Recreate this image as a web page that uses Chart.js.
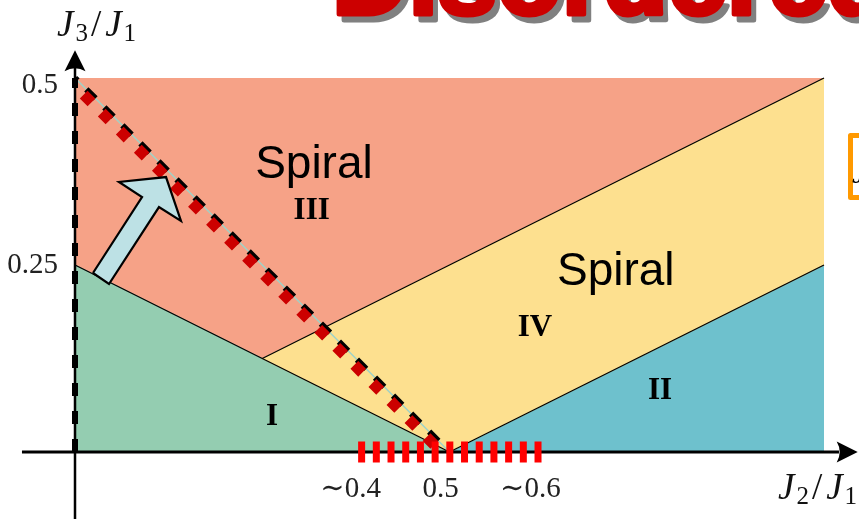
<!DOCTYPE html>
<html><head><meta charset="utf-8">
<script src="https://cdn.jsdelivr.net/npm/chart.js@4.4.1/dist/chart.umd.min.js"></script>
<style>html,body{margin:0;padding:0;background:#fff;overflow:hidden}canvas{display:block}</style>
</head><body>
<canvas id="c" width="859" height="519"></canvas>
<script>
// ---- data (x = J2/J1, y = J3/J1) ----
const regionI   = [[0,0],[0,0.25],[0.25,0.125],[0.5,0],[0,0]];
const regionII  = [[0.5,0],[1,0],[1,0.25],[0.5,0]];
const regionIII = [[0,0.25],[0,0.5],[1,0.5],[0.25,0.125],[0,0.25]];
const regionIV  = [[0.25,0.125],[1,0.5],[1,0.25],[0.5,0],[0.25,0.125]];
const boundaryA = [[0,0.25],[0.5,0]];
const boundaryB = [[0.25,0.125],[1,0.5]];
const boundaryC = [[0.5,0],[1,0.25]];
const classicalLine = [[0,0.5],[0.5,0]];
const redDiagonal = [[0.0116,0.4777],[0.49,-0.0007]];
const yAxisDashed = [[0,0],[0,0.5]];
const hatchRange = [[0.378,0],[0.6235,0]];
const xAxisLine = [[-0.0708,0],[1.02,0]];
const yAxisLine = [[0,-0.1],[0,0.52]];
const arrowShape = [[0.0240,0.2393],[0.0454,0.2246],[0.1121,0.3275],[0.1415,0.3088],[0.1215,0.3676],[0.0587,0.3610],[0.0895,0.3409],[0.0240,0.2393]];
const xAxisEnd = 1.045, yAxisEnd = 0.537;
const yTickValues = [0.5, 0.25];
const yTickLabels = ['0.5', '0.25'];
const xTickValues = [0.38, 0.5, 0.62];
const xTickLabels = ['\u223C0.4', '0.5', '\u223C0.6'];
const regionLabels = [
  {text:'Spiral', x:0.319, y:0.366, kind:'sans'},
  {text:'III', x:0.316, y:0.3115, kind:'roman'},
  {text:'Spiral', x:0.722, y:0.223, kind:'sans'},
  {text:'IV', x:0.614, y:0.155, kind:'roman'},
  {text:'II', x:0.781, y:0.071, kind:'roman'},
  {text:'I', x:0.263, y:0.036, kind:'roman'}
];
const titleText = 'Disordered';

const pts = a => a.map(p => ({x:p[0], y:p[1]}));
function poly(data, color, order){
  return {data:pts(data), showLine:true, fill:'shape', backgroundColor:color, borderColor:color,
          borderWidth:1, pointRadius:0, tension:0, order};
}
function line(data, color, width, order, dash, extra){
  return Object.assign({data:pts(data), showLine:true, fill:false, borderColor:color, borderWidth:width,
          pointRadius:0, tension:0, order, borderDash:dash||[], clip:false, borderCapStyle:'butt'}, extra||{});
}

const overlay = {
  id:'overlay',
  afterDraw(chart){
    const {ctx, scales:{x, y}} = chart;
    ctx.save();
    // axis arrowheads
    ctx.fillStyle = '#000';
    const tx = x.getPixelForValue(xAxisEnd), ty = y.getPixelForValue(0);
    ctx.beginPath(); ctx.moveTo(tx, ty); ctx.lineTo(tx-21, ty-10.5);
    ctx.quadraticCurveTo(tx-15, ty, tx-21, ty+10.5); ctx.closePath(); ctx.fill();
    const ux = x.getPixelForValue(0), uy = y.getPixelForValue(yAxisEnd);
    ctx.beginPath(); ctx.moveTo(ux, uy); ctx.lineTo(ux-10.5, uy+21);
    ctx.quadraticCurveTo(ux, uy+15, ux+10.5, uy+21); ctx.closePath(); ctx.fill();

    // tick labels
    ctx.fillStyle = '#222';
    ctx.font = "29px 'Liberation Serif', 'DejaVu Serif', serif";
    ctx.textAlign = 'right'; ctx.textBaseline = 'middle';
    yTickValues.forEach((v,i) => {
      const py = Math.max(y.getPixelForValue(v), 85);
      ctx.fillText(yTickLabels[i], x.getPixelForValue(0) - 17, py);
    });
    ctx.textAlign = 'center'; ctx.textBaseline = 'alphabetic';
    xTickValues.forEach((v,i) => {
      ctx.fillText(xTickLabels[i], x.getPixelForValue(v) - 9, y.getPixelForValue(0) + 45);
    });

    // axis titles J3/J1 and J2/J1
    function mathLabel(lx, by, sub1, sub2){
      ctx.fillStyle = '#111'; ctx.textAlign = 'left'; ctx.textBaseline = 'alphabetic';
      let cx = lx;
      const it = "italic 37px 'Liberation Serif', serif";
      const up = "37px 'Liberation Serif', serif";
      const sb = "25px 'Liberation Serif', serif";
      ctx.font = it; ctx.fillText('J', cx, by); cx += ctx.measureText('J').width + 2;
      ctx.font = sb; ctx.fillText(sub1, cx, by + 5); cx += ctx.measureText(sub1).width + 3;
      ctx.font = up; ctx.fillText('/', cx, by); cx += ctx.measureText('/').width + 4;
      ctx.font = it; ctx.fillText('J', cx, by); cx += ctx.measureText('J').width + 2;
      ctx.font = sb; ctx.fillText(sub2, cx, by + 5);
    }
    mathLabel(x.getPixelForValue(0) - 18, 36, '3', '1');
    mathLabel(x.getPixelForValue(1) - 46, 499, '2', '1');

    // region labels
    ctx.textAlign = 'center'; ctx.textBaseline = 'alphabetic'; ctx.fillStyle = '#000';
    regionLabels.forEach(l => {
      ctx.font = l.kind === 'sans' ? "46px 'Liberation Sans', Arial, sans-serif" : "bold 31px 'Liberation Serif', serif";
      ctx.fillText(l.text, x.getPixelForValue(l.x), y.getPixelForValue(l.y));
    });

    // title (cut at top)
    ctx.font = "bold 106px 'Liberation Sans', Arial, sans-serif";
    ctx.textAlign = 'left'; ctx.lineJoin = 'round';
    ctx.fillStyle = '#808080'; ctx.strokeStyle = '#808080'; ctx.lineWidth = 5;
    ctx.strokeText(titleText, 337, 19.5); ctx.fillText(titleText, 337, 19.5);
    ctx.fillStyle = '#cc0000'; ctx.strokeStyle = '#cc0000';
    ctx.strokeText(titleText, 332, 13.5); ctx.fillText(titleText, 332, 13.5);

    // orange framed box at right edge
    ctx.fillStyle = '#fff'; ctx.fillRect(851, 136, 40, 61);
    ctx.strokeStyle = '#ff9900'; ctx.lineWidth = 5; ctx.strokeRect(850.5, 135.5, 40, 62);
    ctx.fillStyle = '#000'; ctx.font = "italic 31px 'Liberation Serif', serif";
    ctx.fillText('J', 852, 183);
    ctx.restore();
  }
};

new Chart(document.getElementById('c'), {
  type:'scatter',
  data:{datasets:[
    poly(regionIII, '#f6a287', 30),
    poly(regionIV, '#fde08f', 29),
    poly(regionII, '#6ec1cd', 29),
    poly(regionI, '#94cdb1', 29),
    line(boundaryA, '#000', 1.3, 25),
    line(boundaryB, '#000', 1.3, 25),
    line(boundaryC, '#000', 1.3, 25),
    line(classicalLine, '#9fd3c8', 1.5, 24),
    line(xAxisLine, '#000', 3, 23),
    line(yAxisLine, '#000', 2.5, 23),
    line(yAxisDashed, '#000', 6, 22, [13,15]),
    line(classicalLine, '#000', 6, 21, [13,12.5], {borderDashOffset:9.5}),
    line(redDiagonal, '#cc0000', 11, 20, [11,14.5]),
    line(hatchRange, '#ff0000', 21, 19, [7,7.7]),
    Object.assign(poly(arrowShape, '#bde1e5', 18), {borderColor:'#000', borderWidth:2.2, clip:false, borderJoinStyle:'miter'})
  ]},
  options:{
    responsive:false, animation:false, devicePixelRatio:1,
    layout:{padding:{left:75, right:35, top:78, bottom:67}},
    scales:{
      x:{type:'linear', min:0, max:1, display:false},
      y:{type:'linear', min:0, max:0.5, display:false}
    },
    plugins:{legend:{display:false}, tooltip:{enabled:false}},
    events:[]
  },
  plugins:[overlay]
});
</script>
</body></html>
